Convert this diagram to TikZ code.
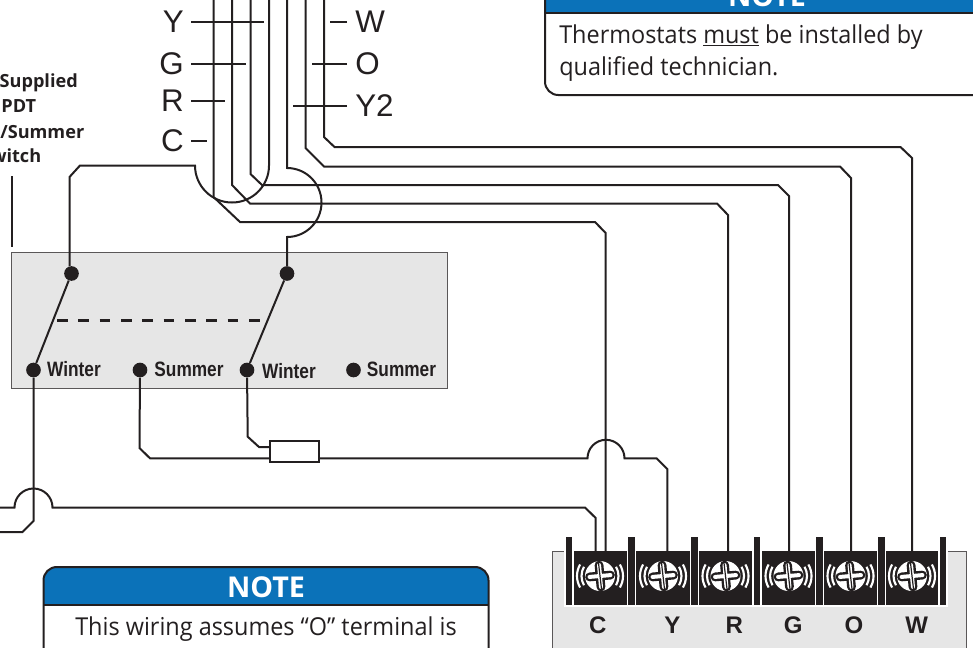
\documentclass[tikz,border=0pt]{standalone}
\usepackage{fontspec}
\setmainfont[FakeStretch=0.95]{Open Sans}
\newfontfamily\headfont{Open Sans}
\newfontfamily\arialfont{Liberation Sans}
\newfontfamily\narrowfont[FakeStretch=0.83]{Liberation Sans}
\usetikzlibrary{calc}
\definecolor{wireblack}{RGB}{35,31,32}
\definecolor{panelgray}{RGB}{230,230,230}
\definecolor{noteblue}{RGB}{11,114,185}
\tikzset{
	wire/.style={draw=wireblack, line width=1.5pt, line join=miter},
	dot/.style={circle, fill=wireblack, minimum size=11pt, inner sep=0pt},
	panel/.style={draw=wireblack!75, fill=panelgray, line width=0.6pt},
	notebox/.style={draw=wireblack, line width=1.5pt, rounded corners=10pt},
	statlbl/.style={font=\arialfont\fontsize{23.5}{24}\selectfont, text=wireblack, inner sep=0pt},
	contactlbl/.style={font=\narrowfont\bfseries\fontsize{15.6}{16}\selectfont, text=wireblack, inner sep=0pt, anchor=base},
	termlbl/.style={font=\arialfont\bfseries\fontsize{18}{18}\selectfont, text=wireblack, inner sep=0pt},
	sidelbl/.style={font=\headfont\bfseries\fontsize{13.6}{14}\selectfont, text=wireblack, inner sep=0pt, anchor=base east},
	notebody/.style={font=\fontsize{18.5}{18.5}\selectfont, text=wireblack, inner sep=0pt, anchor=base},
	notehead/.style={font=\headfont\bfseries\fontsize{21.5}{21.5}\selectfont, text=white, inner sep=0pt, anchor=base},
	screwhead/.pic={
		\fill[white] (0,0) circle (15);
		\begin{scope}[rotate=5]
			\draw[wireblack, line width=6.6pt, line cap=round] (-10.5,0) -- (10.5,0) (0,-11) -- (0,11);
			\draw[white, line width=3pt, line cap=round] (-10.5,0) -- (10.5,0) (0,-11) -- (0,11);
		\end{scope}
		\draw[wireblack, line width=0.9pt] (-1.5,-13) -- (1.5,13);
		\foreach \r in {18.5,23}{
			\draw[white, line width=1.6pt] ({-\r*cos(30)},{-\r*sin(30)}) arc (210:150:\r);
			\draw[white, line width=1.6pt] ({\r*cos(30)},{-\r*sin(30)}) arc (-30:30:\r);
		}
	}
}

\begin{document}
\begin{tikzpicture}[x=0.75pt, y=-0.75pt]
	\useasboundingbox (0,0) rectangle (973,647);
	\clip (0,0) rectangle (973,647);

	% switch box
	\draw[panel] (11.5,252) rectangle (447,388);
	\node[dot] (comA) at (71.5,273.5) {};
	\node[dot] (comB) at (287,273.5) {};
	\node[dot] (winA) at (33.5,370) {};
	\node[dot] (sumA) at (140,370) {};
	\node[dot] (winB) at (247,370) {};
	\node[dot] (sumB) at (353.5,370) {};
	\node[contactlbl] (lblWinA) at (74,376.5) {Winter};
	\node[contactlbl] (lblSumA) at (189,376.5) {Summer};
	\node[contactlbl] (lblWinB) at (289,378.5) {Winter};
	\node[contactlbl] (lblSumB) at (401.5,376.5) {Summer};
	\draw[wire] (comA) -- (winA);
	\draw[wire] (comB) -- (winB);
	\draw[wireblack, line width=1.6pt, dash pattern=on 8pt off 8pt] (57,320.5) -- (260,320.5);

	% thermostat letters
	\foreach \n/\y/\e in {Y/22/264,G/64/246,R/100.5/225,C/141/207}{
		\node[statlbl, anchor=east] (stat\n) at (184,\y) {\n};
		\coordinate (stub\n) at (\e,\y);
		\draw[wire] ($(stat\n.east)+(7,0)$) -- (stub\n);
	}
	\foreach \n/\y/\e in {W/22/330,O/64/312,Y2/106/293}{
		\node[statlbl, anchor=west] (stat\n) at (355,\y) {\n};
		\coordinate (stub\n) at (\e,\y);
		\draw[wire] ($(stat\n.west)+(-8,0)$) -- (stub\n);
	}

	% terminal block
	\draw[panel] (552,660) -- (552,551) -- (966,551) -- (966,660);
	\foreach \x/\w/\n/\c in {573.5/53.5/C/600,636/53.5/Y/663,698.7/53.5/R/725.5,761.7/53.5/G/788.5,824/53/O/850.5,886/52.5/W/912}{
		\fill[white] (\x-1.5,549) rectangle (\x+\w+1,606.5);
		\fill[wireblack] (\x,551) rectangle (\x+\w,605);
		\pic at (\c,576) {screwhead};
	}
	\foreach \x in {565.7,628.3,691,753.7,816.3,878,939.7}{
		\fill[white] (\x-1.5,536) rectangle (\x+8,606.5);
		\fill[wireblack] (\x,537.3) rectangle (\x+6.6,604.5);
	}
	\foreach \n/\x in {C/597.7,Y/672.3,R/734.3,G/793.3,O/854,W/916.7}{
		\node[termlbl] (lbl\n) at (\x,625.7) {\n};
	}

	% wires from the thermostat
	\coordinate (topW) at (324,0);
	\coordinate (topO) at (305.5,0);
	\coordinate (topG) at (250.5,0);
	\coordinate (topR) at (232,0);
	\coordinate (topC) at (213.5,0);
	\coordinate (topLoopA) at (269,0);
	\coordinate (topLoopB) at (287,0);
	\coordinate (termW) at (912,551);
	\coordinate (termO) at (851,551);
	\coordinate (termG) at (789,551);
	\coordinate (termR) at (728,551);
	\coordinate (termCa) at (605.7,551);
	\coordinate (termCb) at (595.7,551);
	\coordinate (termY) at (667.3,551);
	\draw[wire] (topW) -- (324,137) -- (334.5,147) -- (900.5,147) -- (912,158) -- (termW);
	\draw[wire] (topO) -- (305.5,148) -- (324,166.5) -- (840,166.5) -- (851,178) -- (termO);
	\draw[wire] (topG) -- (250.5,174) -- (262,185) -- (778,185) -- (789,196) -- (termG);
	\draw[wire] (topR) -- (232,185) -- (250,203.5) -- (717,203.5) -- (728,215) -- (termR);
	\draw[wire] (topC) -- (213.5,197) -- (240,222) -- (595,222) -- (605.7,233) -- (termCa);
	\draw[wire] (topLoopA) -- (269,165.5) arc (0:180:37) -- (80,165.5) -- (69.5,177) -- (69.5,265) -- (comA);
	\draw[wire] (topLoopB) -- (287,168) arc (270:450:34.5) -- (comB);

	% wires from the lower contacts
	\node[draw=wireblack, fill=white, line width=1.2pt, minimum width=36.5pt, minimum height=15.5pt, inner sep=0pt] (fuse) at (294.5,451.5) {};
	\coordinate (fuseInA) at (270,458.3);
	\coordinate (fuseInB) at (270,447);
	\coordinate (fuseOut) at (319,458.3);
	\draw[wire] (sumA) -- (139.5,448) -- (150,458.3) -- (fuseInA);
	\draw[wire] (winB) -- (247.7,436.7) -- (259,447) -- (fuseInB);
	\draw[wire] (fuseOut) -- (587.5,458.3) arc (180:360:18.5) -- (656.5,458.3) -- (667.3,469) -- (termY);
	\draw[wire] (winA) -- (33.5,521) -- (22.5,532) -- (0,532);
	\draw[wire] (0,507.5) -- (14.5,507.5) arc (180:360:19) -- (585,507.5) -- (595.7,518) -- (termCb);

	% side text
	\draw[wire] (12,176) -- (12,247);
	\node[sidelbl] (sideA) at (78,87.5) {Supplied};
	\node[sidelbl] (sideB) at (36.5,112.5) {PDT};
	\node[sidelbl] (sideC) at (84.5,138) {/Summer};
	\node[sidelbl] (sideD) at (41.5,162) {witch};

	% notes
	\begin{scope}
		\clip (545,-40) rectangle (1010,13.3);
		\fill[noteblue, rounded corners=10pt] (545,-40) rectangle (1010,95);
	\end{scope}
	\draw[notebox] (545,-40) rectangle (1010,95);
	\draw[wireblack, line width=1.5pt] (545,13.3) -- (973,13.3);
	\node[notehead] (headTop) at (767,6.7) {NOTE};
	\node[notebody, anchor=base west] (bodyTopA) at (559,43) {Thermostats \underline{must} be installed by};
	\node[notebody, anchor=base west] (bodyTopB) at (559,75) {qualified technician.};
	\begin{scope}
		\clip (43,560) rectangle (489,605);
		\fill[noteblue, rounded corners=10pt] (43.5,567) rectangle (488.5,700);
	\end{scope}
	\draw[notebox] (43.5,567) rectangle (488.5,700);
	\draw[wireblack, line width=1.5pt] (43.5,605) -- (488.5,605);
	\node[notehead] (headLow) at (266,597) {NOTE};
	\node[notebody] (bodyLow) at (266,635) {This wiring assumes “O” terminal is};
\end{tikzpicture}
\end{document}
